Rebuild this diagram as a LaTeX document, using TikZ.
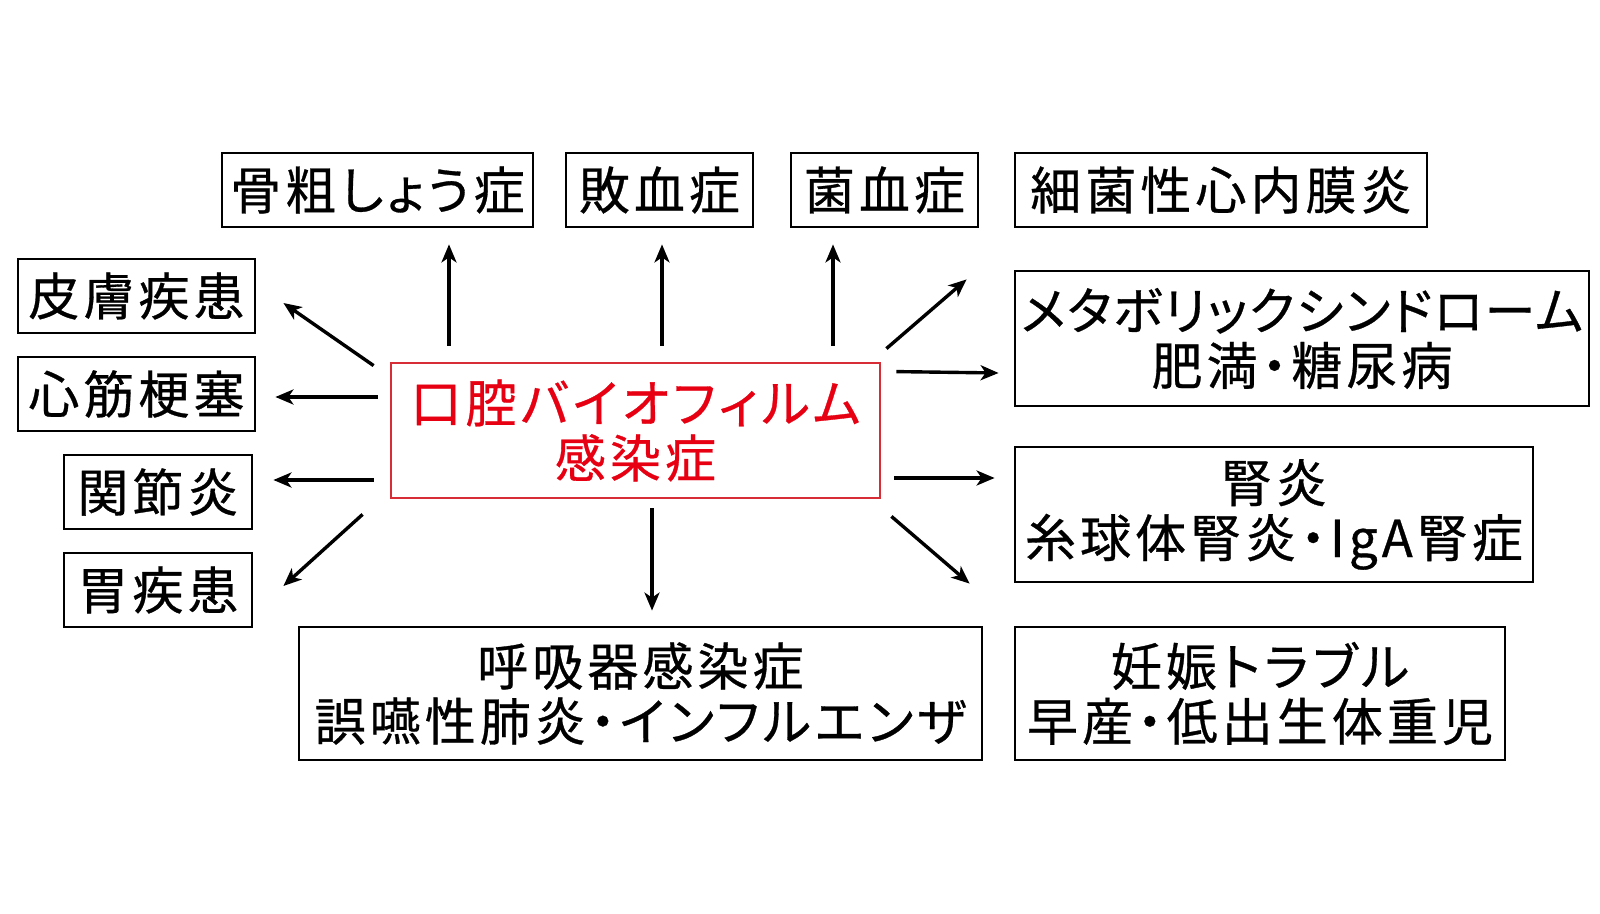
\documentclass[tikz,border=0pt]{standalone}
\usepackage{fontspec}
\setmainfont{Noto Sans CJK JP}
\newfontfamily\jp[RawFeature=+palt,LetterSpace=8,FakeBold=0.6]{Noto Sans CJK JP}
\usetikzlibrary{arrows.meta}
\definecolor{redtxt}{RGB}{230,0,18}
\definecolor{redbox}{RGB}{215,45,55}
\begin{document}
\begin{tikzpicture}[x=0.5pt,y=-0.5pt,
 box/.style={draw=black,line width=1.4pt,inner sep=0pt,align=center,font=\jp\fontsize{25.5}{27.5}\selectfont,minimum height=37pt},
 tall/.style={box,minimum height=67.5pt},
 arr/.style={line width=1.7pt,-{Stealth[length=9pt,width=7.5pt,inset=2.5pt]}}
]
\fill[white] (0,0) rectangle (1600,914);
\useasboundingbox (0,0) rectangle (1600,914);

% top row
\node[box,minimum width=155.5pt] (kotsu) at (377.5,190) {骨粗しょう症};
\node[box,minimum width=93.5pt] (haiketsu) at (659.5,190) {敗血症};
\node[box,minimum width=93.5pt] (kinketsu) at (884.5,190) {菌血症};
\node[box,minimum width=206pt] (saikin) at (1221,190) {細菌性心内膜炎};
% left column
\node[box,minimum width=118.5pt] (hifu) at (136.5,296) {皮膚疾患};
\node[box,minimum width=118.5pt] (shinkin) at (136.5,394) {心筋梗塞};
\node[box,minimum width=94pt] (kansetsu) at (158,492) {関節炎};
\node[box,minimum width=94pt] (i) at (158,590) {胃疾患};
% center
\node[tall,draw=redbox,text=redtxt,minimum width=244.5pt] (c) at (635.5,430.5) {口腔バイオフィルム\\感染症};
% right column
\node[tall,minimum width=287pt] (meta) at (1302,338.5) {{\addfontfeature{LetterSpace=3}メタボリックシンドローム}\\肥満・糖尿病};
\node[tall,minimum width=259pt] (jin) at (1274,514.5) {腎炎\\糸球体腎炎・IgA腎症};
% bottom
\node[tall,minimum width=341.5pt,minimum height=66.5pt] (kokyu) at (640.5,693.5) {呼吸器感染症\\誤嚥性肺炎・インフルエンザ};
\node[tall,minimum width=245pt,minimum height=66.5pt] (ninshin) at (1260,693.5) {妊娠トラブル\\早産・低出生体重児};

% arrows
\draw[arr] ([shift={(-186.5,-16)}]c.north) -- ([shift={(71.5,16)}]kotsu.south);
\draw[arr] ([shift={(26.5,-16)}]c.north) -- ([shift={(2.5,16)}]haiketsu.south);
\draw[arr] ([shift={(197.5,-16)}]c.north) -- ([shift={(-51.5,16)}]kinketsu.south);
\draw[arr] ([shift={(5,-13)}]c.north east) -- ([shift={(-47,51)}]saikin.south west);
\draw[arr] ([shift={(15,10)}]c.north east) -- ([shift={(-15,34.5)}]meta.west);
\draw[arr] ([shift={(13,47.5)}]c.east) -- ([shift={(-19,-36.5)}]jin.west);
\draw[arr] ([shift={(10,17)}]c.south east) -- ([shift={(-44,-42)}]ninshin.north west);
\draw[arr] ([shift={(16.5,9)}]c.south) -- ([shift={(11.5,-15)}]kokyu.north);
\draw[arr] ([shift={(-27,15)}]c.south west) -- ([shift={(30,-4)}]i.east);
\draw[arr] ([shift={(-16,49.5)}]c.west) -- ([shift={(20,-12)}]kansetsu.east);
\draw[arr] ([shift={(-12,-33.5)}]c.west) -- ([shift={(19,3)}]shinkin.east);
\draw[arr] ([shift={(-16,4)}]c.north west) -- ([shift={(27,7)}]hifu.east);
\end{tikzpicture}
\end{document}
